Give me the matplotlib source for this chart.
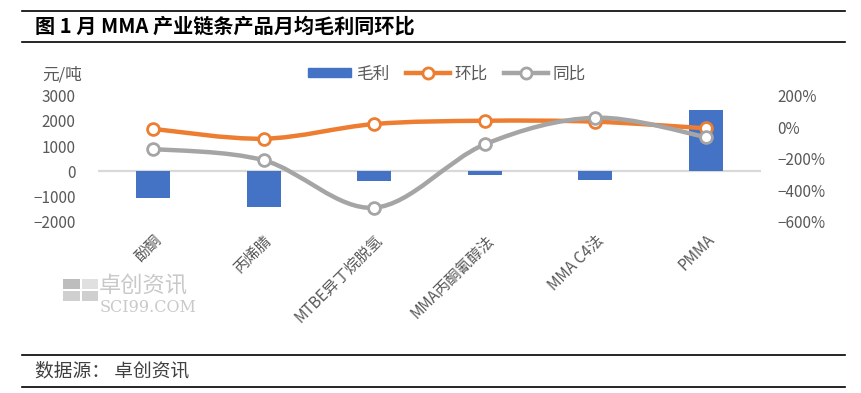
import matplotlib
matplotlib.use("Agg")
import matplotlib.pyplot as plt
from matplotlib.path import Path
from matplotlib.patches import PathPatch, Rectangle
from matplotlib.lines import Line2D
from matplotlib.ticker import FuncFormatter, MultipleLocator

plt.rcParams['font.family'] = ['Noto Sans CJK SC', 'DejaVu Sans']
plt.rcParams['axes.unicode_minus'] = True

# ---------------- data ----------------
categories = ['酚酮', '丙烯腈', 'MTBE异丁烷脱氢', 'MMA丙酮氰醇法', 'MMA C4法', 'PMMA']
margin = [-1040, -1420, -370, -150, -345, 2430]     # 元/吨
mom = [-11, -73, 20, 41, 35, -7]                     # 环比 %
yoy = [-138, -210, -511, -109, 60, -62]              # 同比 %

BLUE = '#4472C4'
ORANGE = '#ED7D31'
GRAY = '#A5A5A5'
TXT = '#595959'

W, H = 862, 393
fig = plt.figure(figsize=(W / 100, H / 100), dpi=100)


def fx(px):
    return px / W


def fy(py):
    return 1 - py / H


ax = fig.add_axes([fx(98), fy(221.7), fx(761) - fx(98), fy(95.7) - fy(221.7)])
ax2 = ax.twinx()

x = list(range(len(categories)))
ax.bar(x, margin, width=0.31, color=BLUE, zorder=2)
ax.axhline(0, color='#D9D9D9', lw=1.6, zorder=1)
ax.set_ylim(-2000, 3000)
ax.set_xlim(-0.5, len(categories) - 0.5)
ax.yaxis.set_major_locator(MultipleLocator(1000))
ax.yaxis.set_major_formatter(FuncFormatter(lambda v, p: f"{int(v)}".replace('-', '\u2212')))

ax2.set_ylim(-600, 200)
ax2.yaxis.set_major_locator(MultipleLocator(200))
ax2.yaxis.set_major_formatter(FuncFormatter(lambda v, p: f"{int(v)}%".replace('-', '\u2212')))


def smooth_path(xs, ys):
    # excel-style smoothed line: cubic bezier through every point
    n = len(xs)
    verts = [(xs[0], ys[0])]
    codes = [Path.MOVETO]
    for i in range(n - 1):
        x0, y0 = xs[max(i - 1, 0)], ys[max(i - 1, 0)]
        x1, y1 = xs[i], ys[i]
        x2, y2 = xs[i + 1], ys[i + 1]
        x3, y3 = xs[min(i + 2, n - 1)], ys[min(i + 2, n - 1)]
        c1 = (x1 + (x2 - x0) / 6, y1 + (y2 - y0) / 6)
        c2 = (x2 - (x3 - x1) / 6, y2 - (y3 - y1) / 6)
        verts += [c1, c2, (x2, y2)]
        codes += [Path.CURVE4] * 3
    return Path(verts, codes)


for vals, col, z in [(mom, ORANGE, 3), (yoy, GRAY, 4)]:
    ax2.add_patch(PathPatch(smooth_path(x, vals), facecolor='none', edgecolor=col,
                            lw=3.2, capstyle='round', zorder=z))
    ax2.plot(x, vals, ls='none', marker='o', ms=8.5, mfc='white', mec=col, mew=2, zorder=z + 0.5)

for a in (ax, ax2):
    for s in a.spines.values():
        s.set_visible(False)
    a.tick_params(length=0, labelsize=11, labelcolor=TXT)

ax.tick_params(axis='y', pad=16)
ax2.tick_params(axis='y', pad=12)
ax.set_xticks(x)
ax.set_xticklabels(categories, rotation=45, ha='right', rotation_mode='anchor',
                   fontsize=11, color=TXT)
ax.tick_params(axis='x', pad=7)

fig.text(fx(42), fy(75), '元/吨', fontsize=12, color=TXT, va='center', ha='left')

handles = [Rectangle((0, 0), 1, 1, color=BLUE),
           Line2D([], [], color=ORANGE, lw=3.2, marker='o', ms=8, mfc='white', mew=2),
           Line2D([], [], color=GRAY, lw=3.2, marker='o', ms=8, mfc='white', mew=2)]
fig.legend(handles, ['毛利', '环比', '同比'], loc='center', bbox_to_anchor=(fx(447), fy(74)),
           ncol=3, frameon=False, fontsize=12, labelcolor=TXT, handlelength=2.6,
           handleheight=0.5, columnspacing=1.0, handletextpad=0.3)

# title and footer rules
for yy in (11, 42, 355, 387):
    fig.add_artist(Line2D([fx(22), fx(845)], [fy(yy), fy(yy)], color='black', lw=1.2))
fig.text(fx(35), fy(26.5), '图 1 月 MMA 产业链条产品月均毛利同环比', fontsize=14.5,
         fontweight='bold', va='center', ha='left', color='black')
fig.text(fx(35), fy(371), '数据源： 卓创资讯', fontsize=13.5, va='center', ha='left', color='#404040')

# watermark
WM = '#C9C9C9'
for (x0, y0, w, h, c) in [(63, 279, 17, 10, '#BDBDBD'), (82, 279, 16, 10, '#E0E0E0'),
                          (63, 291, 17, 10, '#CFCFCF'), (82, 291, 16, 10, '#CFCFCF')]:
    fig.add_artist(Rectangle((fx(x0), fy(y0 + h)), fx(w), h / H, color=c, lw=0))
fig.text(fx(99), fy(286), '卓创资讯', fontsize=16, color=WM, va='center', ha='left')
fig.text(fx(100), fy(307), 'SCI99.COM', fontsize=11.5, color=WM, va='center', ha='left',
         family='DejaVu Serif')

fig.savefig('out.png', dpi=100)
